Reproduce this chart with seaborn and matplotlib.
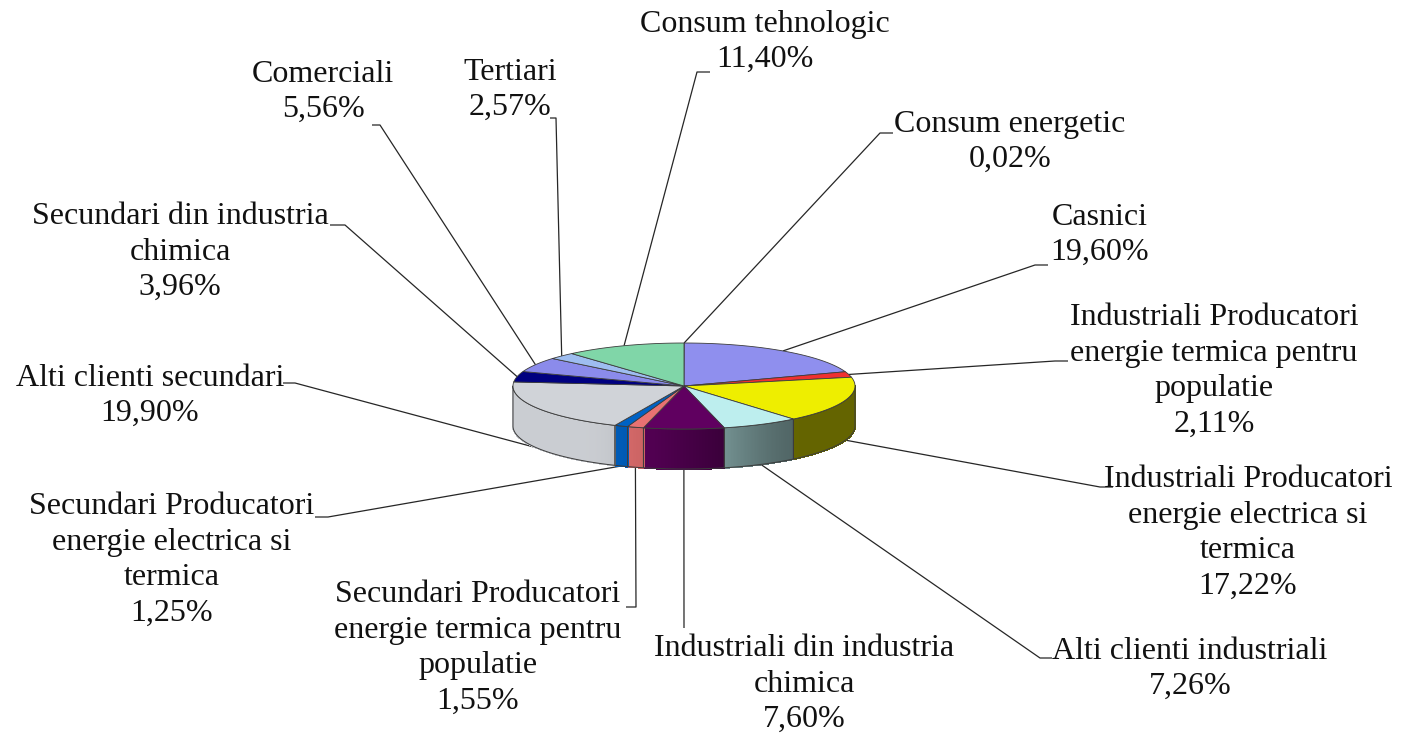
import numpy as np
import matplotlib
matplotlib.use('Agg')
import matplotlib.pyplot as plt
import seaborn as sns
from matplotlib.patches import Polygon
from matplotlib.colors import to_rgb

# ---------------- data ----------------
categories = [
    "Consum energetic",
    "Casnici",
    "Industriali Producatori\nenergie termica pentru\npopulatie",
    "Industriali Producatori\nenergie electrica si\ntermica",
    "Alti clienti industriali",
    "Industriali din industria\nchimica",
    "Secundari Producatori\nenergie termica pentru\npopulatie",
    "Secundari Producatori\nenergie electrica si\ntermica",
    "Alti clienti secundari",
    "Secundari din industria\nchimica",
    "Comerciali",
    "Tertiari",
    "Consum tehnologic",
]
values = [0.02, 19.60, 2.11, 17.22, 7.26, 7.60, 1.55, 1.25, 19.90, 3.96, 5.56, 2.57, 11.40]
colors = ["#9999FF", "#8F8FEE", "#F03030", "#EEEE00", "#BDEEEE", "#600060",
          "#E87272", "#0062C4", "#D0D3D8", "#000080", "#8B8BEB", "#9EBDF0", "#80D6A8"]

# ---------------- layout (pixels) ----------------
label_pos = [(1010, 142), (1100, 235), (1214, 371), (1248, 533), (1190, 669),
             (804, 684), (478, 648), (172, 560), (150, 396), (180, 252),
             (323, 92), (510, 90), (765, 42)]
hooks = [((893, 133), (880, 133)), ((1048, 265), (1035, 265)), ((1068, 361), (1055, 361)),
         ((1113, 487), (1100, 487)), ((1052, 658), (1040, 658)), ((684, 628), (684, 628)),
         ((626, 607), (636, 607)), ((315, 517), (328, 517)), ((283, 383), (295, 383)),
         ((330, 225), (345, 225)), ((372, 125), (380, 125)), ((550, 118), (556, 118)),
         ((710, 72), (697, 72))]
cx, cy, ra, rb, depth = 684.0, 386.0, 171.0, 43.0, 40.0

sns.set_theme(style="white")
plt.rcParams['font.family'] = ['Liberation Serif', 'DejaVu Serif']

fig = plt.figure(figsize=(14.18, 7.37), dpi=100)
ax = fig.add_axes([0, 0, 1, 1])
ax.set_xlim(0, 1418)
ax.set_ylim(737, 0)
ax.axis('off')


def top(t):
    r = np.radians(t)
    return cx + ra * np.sin(r), cy - rb * np.cos(r)


def bot(t):
    x, y = top(t)
    return x, y + depth


def shade(u):
    s = np.clip((u - 0.3) / 0.45, 0, 1)
    s = s * s * (3 - 2 * s)
    return 0.97 - 0.55 * s


vals = np.array(values)
cum = np.cumsum(vals)
starts = 360 * (cum - vals) / 100.0
ends = 360 * cum / 100.0
mids = (starts + ends) / 2

edge = "#3c3c3c"

# side walls (front half only)
for s, e, col in zip(starts, ends, colors):
    lo, hi = max(s, 90), min(e, 270)
    if hi <= lo:
        continue
    base = np.array(to_rgb(col))
    n = max(2, int((hi - lo) / 0.5))
    ts = np.linspace(lo, hi, n + 1)
    for k in range(n):
        t0, t1 = ts[k], ts[k + 1]
        u = (270 - (t0 + t1) / 2) / 180.0
        c = np.clip(base * shade(u), 0, 1)
        quad = [top(t0), top(t1), bot(t1), bot(t0)]
        ax.add_patch(Polygon(quad, closed=True, facecolor=c, edgecolor=c, lw=0.8,
                             antialiased=False, zorder=3))
    arc_t = [top(t) for t in ts]
    arc_b = [bot(t) for t in ts[::-1]]
    ax.add_patch(Polygon(arc_t + arc_b, closed=True, fill=False, edgecolor=edge, lw=0.7, zorder=4))

# top faces
for s, e, col in zip(starts, ends, colors):
    ts = np.linspace(s, e, max(2, int((e - s) / 0.5)) + 1)
    pts = [(cx, cy)] + [top(t) for t in ts]
    ax.add_patch(Polygon(pts, closed=True, facecolor=col, edgecolor=edge, lw=0.6, zorder=5))

# leader lines & labels
for cat, v, m, (lx, ly), (h0, h1) in zip(categories, values, mids, label_pos, hooks):
    if 90 < m < 270:
        ax_, ay_ = bot(m)
    else:
        ax_, ay_ = top(m)
    ax.plot([h0[0], h1[0], ax_], [h0[1], h1[1], ay_], color="#262626", lw=0.9, zorder=2,
            solid_capstyle='butt')
    txt = cat + "\n" + f"{v:.2f}".replace('.', ',') + "%"
    ax.text(lx, ly, txt, ha='center', va='center', fontsize=23, color='#111111',
            linespacing=1.3, zorder=6)

fig.savefig("out.png", dpi=100, facecolor='white')
